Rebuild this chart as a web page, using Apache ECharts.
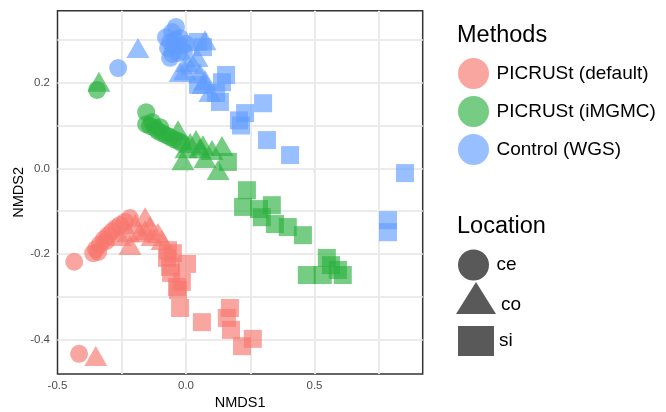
<!DOCTYPE html>
<html>
<head>
<meta charset="utf-8">
<script src="https://cdn.jsdelivr.net/npm/echarts@6/dist/echarts.min.js"></script>
<style>html,body{margin:0;padding:0;background:#fff;}#chart{width:666px;height:412px;}</style>
</head>
<body>
<div id="chart"></div>
<script>
// ---- data (NMDS1, NMDS2) ----
const methods = ['PICRUSt (default)', 'PICRUSt (iMGMC)', 'Control (WGS)'];
const locations = ['ce', 'co', 'si'];
const xTickLabels = [-0.5, 0, 0.5];
const yTickLabels = [-0.4, -0.2, 0, 0.2];
const xGridValues = [-0.25, 0, 0.25, 0.5, 0.75];
const yGridValues = [-0.4, -0.3, -0.2, -0.1, 0, 0.1, 0.2, 0.3];

const defaultCe = [[-0.435,-0.218],[-0.416,-0.433],[-0.361,-0.198],[-0.350,-0.188],[-0.342,-0.195],[-0.334,-0.177],
  [-0.319,-0.165],[-0.311,-0.170],[-0.303,-0.156],[-0.288,-0.147],[-0.272,-0.139],[-0.257,-0.132],[-0.237,-0.125],[-0.218,-0.116]];
const defaultCo = [[-0.351,-0.438],[-0.218,-0.179],[-0.159,-0.114],[-0.198,-0.130],[-0.140,-0.135],[-0.179,-0.149],
  [-0.132,-0.158],[-0.109,-0.151],[-0.093,-0.167],[-0.225,-0.149],[-0.159,-0.144],[-0.257,-0.158]];
const defaultSi = [[-0.070,-0.191],[-0.074,-0.209],[-0.051,-0.198],[0.004,-0.223],[-0.062,-0.230],[-0.058,-0.244],
  [-0.016,-0.265],[-0.035,-0.277],[-0.031,-0.284],[-0.023,-0.326],[0.062,-0.359],[0.171,-0.326],[0.159,-0.349],
  [0.175,-0.377],[0.218,-0.415],[0.260,-0.398]];

const imgmcCe = [[-0.346,0.183],[-0.155,0.131],[-0.155,0.103],[-0.140,0.099],[-0.132,0.108],[-0.120,0.094],[-0.109,0.087],
  [-0.101,0.096],[-0.093,0.082],[-0.078,0.078],[-0.062,0.073],[-0.047,0.068],[-0.031,0.064],[-0.016,0.059]];
const imgmcCo = [[-0.339,0.202],[-0.031,0.089],[-0.012,0.019],[0.016,0.059],[0.039,0.066],[0.054,0.047],[0.066,0.054],
  [0.074,0.024],[0.140,0.052],[0.125,-0.004],[0.101,0.043],[0.000,0.047]];
const imgmcSi = [[0.163,0.015],[0.237,-0.051],[0.222,-0.090],[0.284,-0.095],[0.295,-0.114],[0.334,-0.086],[0.346,-0.130],
  [0.396,-0.137],[0.455,-0.156],[0.548,-0.209],[0.564,-0.226],[0.470,-0.249],[0.532,-0.249],[0.591,-0.237],[0.610,-0.249]];

const wgsCe = [[-0.264,0.234],[-0.039,0.330],[-0.054,0.318],[-0.078,0.306],[-0.062,0.295],[-0.043,0.300],[-0.023,0.304],
  [-0.070,0.281],[-0.047,0.283],[-0.019,0.286],[-0.054,0.267],[-0.031,0.269],[-0.008,0.272],[-0.062,0.258],[0.000,0.290]];
const wgsCo = [[-0.187,0.281],[0.074,0.299],[-0.023,0.225],[0.004,0.248],[0.027,0.243],[0.043,0.260],[0.054,0.222],
  [0.074,0.206],[0.066,0.197],[0.093,0.178],[-0.004,0.229]];
const wgsSi = [[0.047,0.295],[0.066,0.283],[0.047,0.195],[0.156,0.218],[0.140,0.201],[0.117,0.176],[0.132,0.155],
  [0.300,0.152],[0.230,0.129],[0.206,0.112],[0.214,0.100],[0.315,0.066],[0.405,0.031],[0.852,-0.011],[0.786,-0.121],[0.786,-0.149]];

const groups = [
  [defaultCe, defaultCo, defaultSi],
  [imgmcCe, imgmcCo, imgmcSi],
  [wgsCe, wgsCo, wgsSi]
];

// ---- styles ----
const methodColors = ['#F8766D', '#2BB03F', '#619CFF'];
const locSymbols = ['circle', 'triangle', 'rect'];
const locSizes = [18, [23, 20], 18];
const keyGray = '#595959';
const ALPHA = 0.65;

const series = [];
// grid lines drawn through the axes' scales
series.push({
  type: 'line', data: [], silent: true, z: 1,
  markLine: {
    silent: true, symbol: 'none', animation: false, z: 1,
    label: {show: false},
    lineStyle: {color: '#ebebeb', width: 2, type: 'solid'},
    emphasis: {disabled: true},
    data: xGridValues.map(v => ({xAxis: v})).concat(yGridValues.map(v => ({yAxis: v})))
  }
});
groups.forEach((g, mi) => {
  g.forEach((pts, li) => {
    series.push({
      type: 'scatter', name: methods[mi], data: pts, z: 3,
      symbol: locSymbols[li], symbolSize: locSizes[li],
      itemStyle: {color: methodColors[mi], opacity: ALPHA},
      emphasis: {disabled: true}
    });
  });
});
locations.forEach((l, li) => {
  series.push({
    type: 'scatter', name: l, data: [], symbol: locSymbols[li],
    itemStyle: {color: keyGray, opacity: 1}
  });
});

const axisFont = 'Liberation Sans, Arial, sans-serif';
const legendText = {fontFamily: axisFont, fontSize: 19, color: '#000'};
const legends = [
  {
    data: methods.map(m => ({name: m, icon: 'circle'})),
    orient: 'vertical', left: 458, top: 58, padding: 0,
    itemWidth: 36, itemHeight: 31, itemGap: 7, selectedMode: false,
    itemStyle: {opacity: ALPHA},
    textStyle: legendText
  },
  {
    data: [{name: 'ce', icon: 'circle'}], left: 458, top: 249.5, padding: 0,
    itemWidth: 36, itemHeight: 31, selectedMode: false, itemStyle: {color: keyGray, opacity: 1}, textStyle: legendText
  },
  {
    data: [{name: 'co', icon: 'triangle'}], left: 456, top: 282, padding: 0,
    itemWidth: 40, itemHeight: 32, selectedMode: false, itemStyle: {color: keyGray, opacity: 1},
    formatter: '{a|{name}}',
    textStyle: Object.assign({}, legendText, {rich: {a: {fontFamily: axisFont, fontSize: 19, color: '#000', padding: [13, 0, 0, 0]}}})
  },
  {
    data: [{name: 'si', icon: 'rect'}], left: 458, top: 326, padding: 0,
    itemWidth: 36, itemHeight: 30, selectedMode: false, itemStyle: {color: keyGray, opacity: 1}, textStyle: legendText
  }
];

const chart = echarts.init(document.getElementById('chart'), null, {renderer: 'canvas'});
chart.setOption({
  animation: false,
  backgroundColor: '#fff',
  grid: {left: 57.5, right: 243.3, top: 10.7, bottom: 38, show: true, borderColor: '#333', borderWidth: 1.5,
    backgroundColor: 'transparent', containLabel: false, outerBoundsMode: 'none'},
  xAxis: {
    type: 'value', min: -0.5, max: 0.921,
    name: 'NMDS1', nameLocation: 'middle', nameGap: 21, nameMoveOverlap: false,
    nameTextStyle: {fontFamily: axisFont, fontSize: 14.5, color: '#000'},
    axisLine: {show: false},
    axisTick: {show: true, length: 4.5, lineStyle: {color: '#333', width: 1.2}, customValues: xTickLabels},
    axisLabel: {customValues: xTickLabels, margin: 6, fontFamily: axisFont, fontSize: 11.5, color: '#4d4d4d',
      formatter: v => v.toFixed(1)},
    splitLine: {show: false}
  },
  yAxis: {
    type: 'value', min: -0.48, max: 0.368,
    name: 'NMDS2', nameLocation: 'middle', nameGap: 31.5, nameMoveOverlap: false,
    nameTextStyle: {fontFamily: axisFont, fontSize: 14.5, color: '#000'},
    axisLine: {show: false},
    axisTick: {show: true, length: 4.5, lineStyle: {color: '#333', width: 1.2}, customValues: yTickLabels},
    axisLabel: {customValues: yTickLabels, margin: 7.5, fontFamily: axisFont, fontSize: 11.5, color: '#4d4d4d',
      formatter: v => v.toFixed(1)},
    splitLine: {show: false}
  },
  legend: legends,
  graphic: [
    {type: 'text', left: 457, top: 24, style: {text: 'Methods', fontFamily: axisFont, fontSize: 23.5, fill: '#000'}},
    {type: 'text', left: 457, top: 215, style: {text: 'Location', fontFamily: axisFont, fontSize: 23.5, fill: '#000'}}
  ],
  series: series
});
</script>
</body>
</html>
